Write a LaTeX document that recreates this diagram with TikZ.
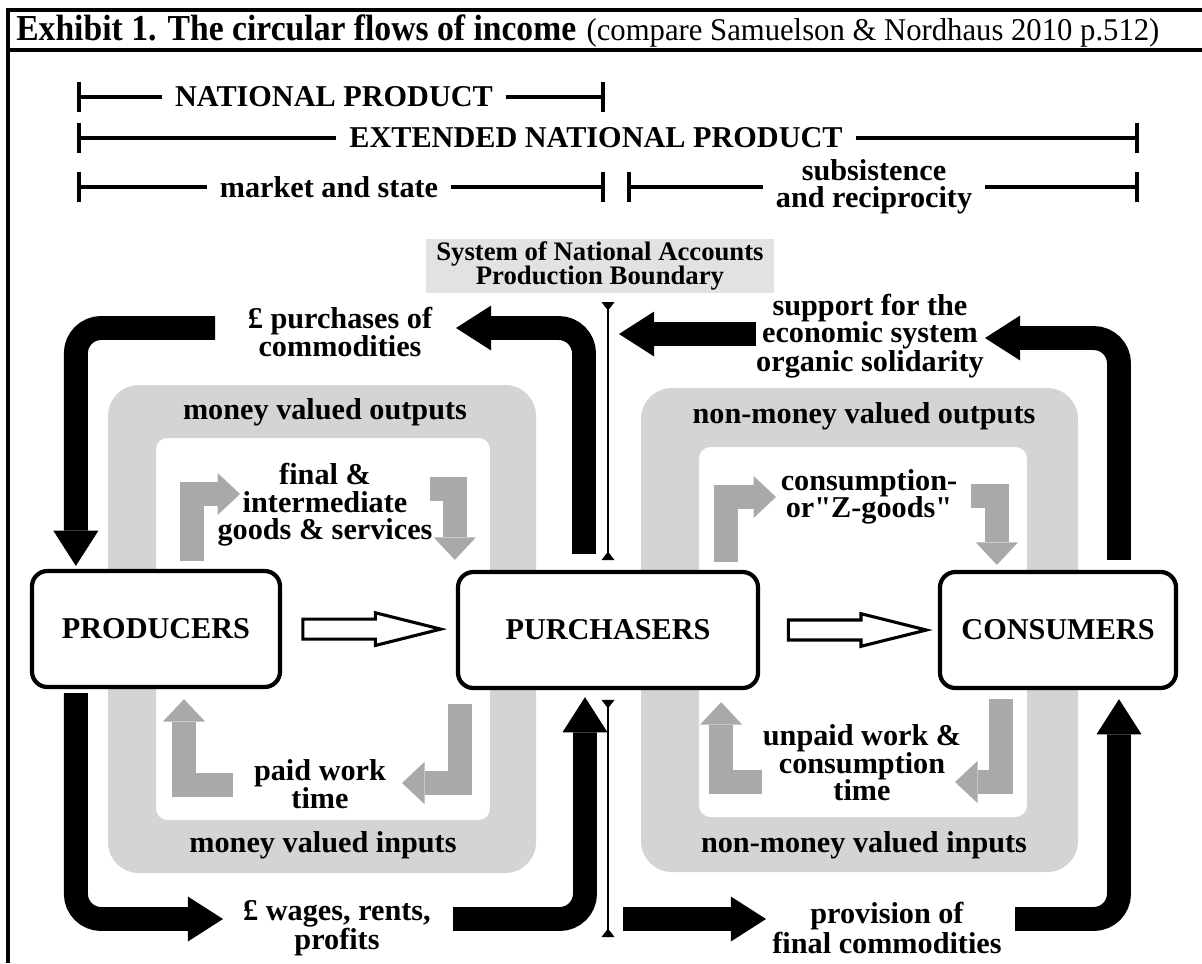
\documentclass[tikz,border=0pt]{standalone}
\usepackage{fontspec}
\setmainfont{Liberation Serif}
\newfontfamily\plainquotes[Ligatures=TeXOff]{Liberation Serif}
\usepackage{graphicx}
\usepackage{tikz}
\usetikzlibrary{arrows.meta,positioning,calc,shapes.arrows}
\definecolor{ringgrey}{HTML}{D4D4D4}
\definecolor{flowgrey}{HTML}{A9A9A9}
\definecolor{snagrey}{HTML}{E2E2E2}
\newcommand{\flowfont}{\bfseries\fontsize{21.5}{19.5}\selectfont}

\begin{document}
\begin{tikzpicture}[x=0.025cm,y=-0.025cm,
    sector/.style={draw,line width=3pt,rounded corners=11pt,fill=white,minimum height=2.9cm,font=\flowfont},
    lbl/.style={font=\flowfont,align=center,inner sep=2pt},
    spanlbl/.style={font=\flowfont,align=center,inner xsep=9pt,inner ysep=0pt},
    span/.style={line width=3pt},
    ring/.style={fill=ringgrey,even odd rule},
    flow/.style={line width=17pt,rounded corners=18pt,-{Triangle[length=25pt,width=32pt,line width=0pt]}},
    greyflow/.style={draw=flowgrey,line width=17pt,-{Triangle[length=16pt,width=30pt,line width=0pt]}},
    hollow/.style={single arrow,draw,line width=2.2pt,fill=white,minimum height=3.45cm,single arrow head extend=4.5pt,single arrow tip angle=28,inner sep=6pt,anchor=tail},
    boundary/.style={line width=1pt,{Triangle[reversed,length=6pt,width=9pt]}-{Triangle[reversed,length=6pt,width=9pt]}}
  ]
    \useasboundingbox (0,0) rectangle (1202,963);
    \draw[line width=2.5pt] (8,963) -- (8,10) -- (1202,10);
    \draw[line width=2.5pt] (8,50) -- (1202,50);
    \node[anchor=base west,inner sep=0pt] (ttl) at (16,40) {\scalebox{0.92}[1]{\bfseries\fontsize{26}{26}\selectfont Exhibit 1. The circular flows of income}};
    \node[base right=7pt of ttl,inner sep=0pt] (cmp) {\scalebox{0.97}[1]{\fontsize{22.5}{22}\selectfont (compare Samuelson \& Nordhaus 2010 p.512)}};

    \node[spanlbl] (np) at (334,97) {NATIONAL PRODUCT};
    \coordinate (npa) at (77,97);
    \coordinate (npb) at (605,97);
    \draw[span,{Bar[width=21pt]}-] (npa) -- (np);
    \draw[span,-{Bar[width=21pt]}] (np) -- (npb);
    \node[spanlbl] (enp) at (596,138) {EXTENDED NATIONAL PRODUCT};
    \coordinate (enpa) at (77,138);
    \coordinate (enpb) at (1139,138);
    \draw[span,{Bar[width=21pt]}-] (enpa) -- (enp);
    \draw[span,-{Bar[width=21pt]}] (enp) -- (enpb);
    \node[spanlbl] (mkt) at (329,187) {market and state};
    \coordinate (mkta) at (77,187);
    \coordinate (mktb) at (605,187);
    \draw[span,{Bar[width=21pt]}-] (mkta) -- (mkt);
    \draw[span,-{Bar[width=21pt]}] (mkt) -- (mktb);
    \node[spanlbl] (sub) at (874,187) {subsistence\\and reciprocity};
    \coordinate (suba) at (627,187);
    \coordinate (subb) at (1139,187);
    \draw[span,{Bar[width=21pt]}-] (suba) -- (sub);
    \draw[span,-{Bar[width=21pt]}] (sub) -- (subb);

    \fill[ring,rounded corners=22pt] (108,385) rectangle (536,873) [rounded corners=8pt] (156,438) rectangle (490,820);
    \fill[ring,rounded corners=22pt] (641,388) rectangle (1078,872) [rounded corners=8pt] (699,447) rectangle (1027,817);

    \node[sector,minimum width=6.2cm] (prod) at (156,629) {PRODUCERS};
    \node[sector,minimum width=7.5cm] (purch) at (608,630) {PURCHASERS};
    \node[sector,minimum width=5.9cm] (cons) at (1058,630) {CONSUMERS};
    \path (prod.east) -- node[hollow,pos=0.11] (pp) {} (purch.west);
    \path (purch.east) -- node[hollow,pos=0.15] (pc) {} (cons.west);

    \node[font=\bfseries\fontsize{19}{17.5}\selectfont,fill=snagrey,align=center,minimum width=8.7cm,minimum height=1.3cm,inner sep=2pt] (sna) at (600,266) {System of National Accounts\\Production Boundary};
    \coordinate (snaend) at (608,937);
    \draw[boundary,shorten <=6pt,shorten >=7pt] (sna.south -| purch.north) -- (purch.north);
    \draw[boundary,shorten <=7pt] (purch.south) -- (snaend);

    \node[lbl] (mvo) at (325,412) {money valued outputs};
    \node[lbl] (mvi) at (323,845) {money valued inputs};
    \node[lbl] (nmo) at (864,416) {non-money valued outputs};
    \node[lbl] (nmi) at (864,845) {non-money valued inputs};
    \node[lbl] (fin) at (325,505) {final \&\\intermediate\\goods \& services};
    \node[lbl] (pwt) at (320,784) {paid work\\time};
    \node[lbl] (zgd) at (869,497) {consumption-\\or{\plainquotes"}Z-goods{\plainquotes"}};
    \node[lbl] (uwc) at (862,763) {unpaid work \&\\consumption\\time};
    \node[lbl] (pur) at (340,332) {£ purchases of\\commodities};
    \node[lbl] (sup) at (870,336) {support for the\\economic system\\organic solidarity};
    \node[lbl] (wag) at (337,928) {£ wages, rents,\\profits};
    \node[lbl] (prv) at (887,928) {provision of\\final commodities};

    \coordinate (gul) at (240,494);
    \coordinate (gurs) at (430,489);
    \coordinate (glle) at (233,785);
    \coordinate (glr) at (402,783);
    \coordinate (cul) at (776,497);
    \coordinate (curs) at (971,496);
    \coordinate (clle) at (762,782);
    \coordinate (clr) at (955,782);
    \draw[greyflow] ($(prod.north)+(36,-8)$) |- (gul);
    \draw[greyflow] (gurs) -| ($(purch.north west)+(-1,-10)$);
    \draw[greyflow] (glle) -| ($(prod.south)+(28,10)$);
    \draw[greyflow] ($(purch.south west)+(4,14)$) |- (glr);
    \draw[greyflow] ($(purch.north east)+(-34,-8)$) |- (cul);
    \draw[greyflow] (curs) -| ($(cons.north west)+(59,-5)$);
    \draw[greyflow] (clle) -| ($(purch.south east)+(-39,12)$);
    \draw[greyflow] ($(cons.south west)+(63,9)$) |- (clr);

    \coordinate (tls) at (215,328);
    \coordinate (tmtip) at (456,328);
    \coordinate (trs) at (756,334);
    \coordinate (trtip) at (619,334);
    \coordinate (suptip) at (985,338);
    \coordinate (wgtip) at (223,919);
    \coordinate (wgend) at (453,919);
    \coordinate (pvs) at (623,919);
    \coordinate (pvtip) at (766,919);
    \coordinate (pvend) at (1015,919);
    \draw[flow] (tls) -| ($(prod.north west)+(46,-3)$);
    \draw[flow] ($(purch.north)+(-24,-16)$) |- (tmtip);
    \draw[flow] (trs) -- (trtip);
    \draw[flow] ($(cons.north)+(61,-10)$) |- (suptip);
    \draw[flow] ($(prod.south west)+(46,4)$) |- (wgtip);
    \draw[flow] (wgend) -| ($(purch.south)+(-23,7)$);
    \draw[flow] (pvs) -- (pvtip);
    \draw[flow] (pvend) -| ($(cons.south)+(61,9)$);
  \end{tikzpicture}
\end{document}
